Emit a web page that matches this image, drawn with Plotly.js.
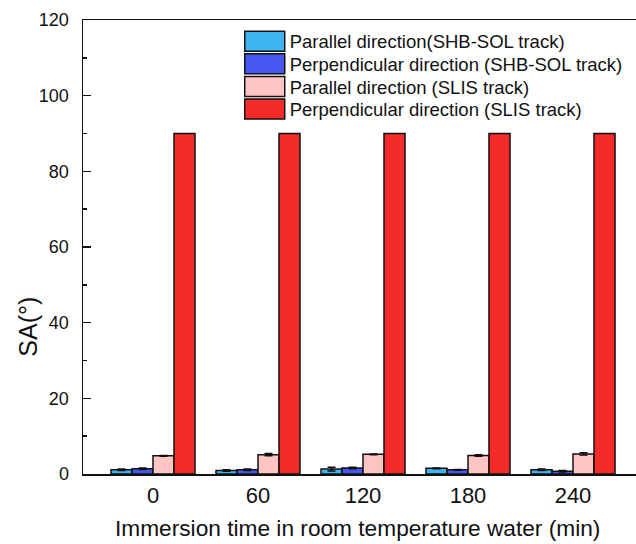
<!DOCTYPE html>
<html>
<head>
<meta charset="utf-8">
<script src="https://cdn.plot.ly/plotly-3.0.1.min.js"></script>
<style>
html,body{margin:0;padding:0;overflow:hidden;background:#fff;}
#chart{width:636px;height:544px;}
</style>
</head>
<body>
<div id="chart"></div>
<script>
// categories (immersion time, min)
const times = [0, 60, 120, 180, 240];
const tickLabels = ['0', '60', '120', '180', '240'];
// series names
const seriesNames = [
  'Parallel direction(SHB-SOL track)',
  'Perpendicular direction (SHB-SOL track)',
  'Parallel direction (SLIS track)',
  'Perpendicular direction (SLIS track)'
];
// values (SA, degrees)
const parSHB  = [1.1, 0.9, 1.3, 1.5, 1.1];
const perpSHB = [1.4, 1.1, 1.6, 1.1, 0.7];
const parSLIS = [4.8, 5.1, 5.2, 4.9, 5.3];
const perpSLIS = [90, 90, 90, 90, 90];
// error bars
const errParSHB  = [0.2, 0.2, 0.5, 0.1, 0.2];
const errPerpSHB = [0.2, 0.2, 0.2, 0.1, 0.2];
const errParSLIS = [0.1, 0.3, 0.1, 0.2, 0.3];
const errPerpSLIS = [0, 0, 0, 0, 0];

const colors = ['#3DB5F2', '#4758F2', '#FFC4C4', '#F52A2A'];
const vals = [parSHB, perpSHB, parSLIS, perpSLIS];
const errs = [errParSHB, errPerpSHB, errParSLIS, errPerpSLIS];

const traces = vals.map((v, i) => ({
  type: 'bar',
  x: times,
  y: v,
  name: seriesNames[i],
  marker: {color: colors[i], line: {color: '#111', width: 1.5}},
  error_y: {type: 'data', array: errs[i], visible: i < 3, color: '#111', thickness: 1.5, width: 4}
}));

const font = 'Arial, "Liberation Sans", sans-serif';

const layout = {
  width: 636,
  height: 544,
  margin: {l: 83, r: 0, t: 20, b: 70},
  paper_bgcolor: '#fff',
  plot_bgcolor: '#fff',
  font: {family: font, color: '#111'},
  barmode: 'group',
  bargap: 0.2,
  bargroupgap: 0,
  showlegend: true,
  legend: {
    x: 0.2834, y: 0.994, xanchor: 'left', yanchor: 'top',
    font: {size: 18.5, family: font, color: '#111'},
    bgcolor: 'rgba(0,0,0,0)', borderwidth: 0,
    itemwidth: 40, tracegroupgap: 0
  },
  xaxis: {
    range: [-40, 276],
    tickvals: times,
    ticktext: tickLabels,
    ticks: '',
    showgrid: false, zeroline: false,
    showline: true, linecolor: '#111', linewidth: 1.5, mirror: true,
    tickfont: {size: 22, family: font, color: '#111'},
    ticklabelstandoff: 1
  },
  yaxis: {
    range: [0, 120],
    dtick: 20,
    ticks: 'inside', ticklen: 8, tickwidth: 1.5, tickcolor: '#111',
    minor: {dtick: 10, ticks: 'inside', ticklen: 4, tickwidth: 1.5, tickcolor: '#111'},
    showgrid: false, zeroline: false,
    showline: true, linecolor: '#111', linewidth: 1.5, mirror: false,
    tickfont: {size: 18, family: font, color: '#111'},
    ticklabelstandoff: 9
  },
  annotations: [
    {text: 'SA(°)', xref: 'paper', yref: 'paper', x: -0.099, y: 0.325,
     xanchor: 'center', yanchor: 'middle', textangle: -90, showarrow: false,
     font: {size: 25, family: font, color: '#111'}},
    {text: 'Immersion time in room temperature water (min)', xref: 'paper', yref: 'paper',
     x: 0.496, y: -0.12, xanchor: 'center', yanchor: 'middle', showarrow: false,
     font: {size: 22.7, family: font, color: '#111'}}
  ]
};

Plotly.newPlot('chart', traces, layout, {displayModeBar: false, staticPlot: true}).then(() => {
  document.querySelectorAll('.legend .legendpoints path').forEach(p => {
    p.setAttribute('d', 'M-20,-10H20V10H-20Z');
  });
  const items = Array.from(document.querySelectorAll('.legend .traces'));
  if (items.length) {
    const parse = g => {
      const m = (g.getAttribute('transform') || '').match(/translate\(\s*([-\d.e]+)[ ,]+([-\d.e]+)\s*\)/);
      return m ? [parseFloat(m[1]), parseFloat(m[2])] : [0, 0];
    };
    const first = parse(items[0]);
    items.forEach((g, i) => {
      const p = parse(g);
      g.setAttribute('transform', 'translate(' + p[0] + ',' + (first[1] + i * 22.6) + ')');
    });
  }
  // diagnostic: report any element drawn near the right edge
  const found = [];
  document.querySelectorAll('svg path, svg line, svg rect').forEach(el => {
    const b = el.getBoundingClientRect();
    if (b.right > 620 && b.width < 6 && b.height > 100) found.push(el.getAttribute('class') + ':' + Math.round(b.left) + '-' + Math.round(b.right) + 'x' + Math.round(b.top) + '-' + Math.round(b.bottom));
  });
  if (found.length) console.error('RIGHT-EDGE: ' + found.join(' | '));
});
</script>
</body>
</html>
